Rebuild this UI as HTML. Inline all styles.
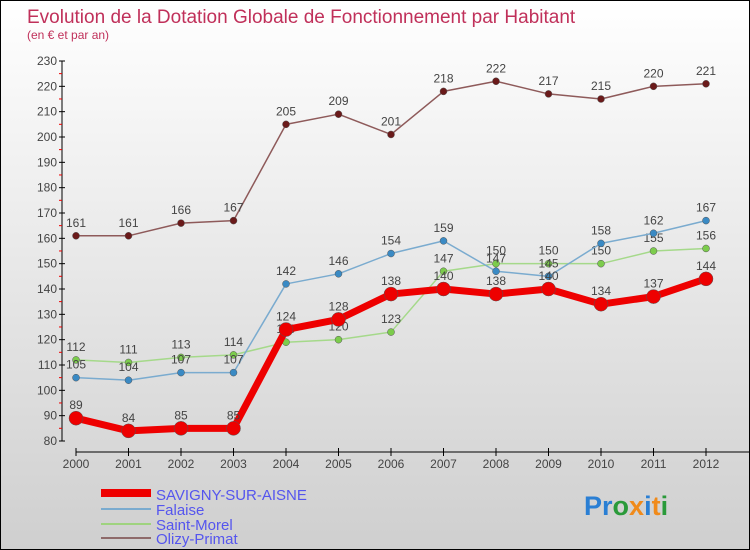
<!DOCTYPE html>
<html><head><meta charset="utf-8"><style>
html,body{margin:0;padding:0}
#wrap{position:relative;width:748px;height:548px;border:1px solid #000;background:linear-gradient(#ffffff,#cfcfcf);font-family:"Liberation Sans",sans-serif;overflow:hidden}
</style></head><body>
<div id="wrap">
<svg id="c" width="748" height="548" xmlns="http://www.w3.org/2000/svg">
<text x="26" y="22" font-size="19" fill="#c0305a">Evolution de la Dotation Globale de Fonctionnement par Habitant</text>
<text x="26" y="38" font-size="12" fill="#c0305a">(en € et par an)</text>
<g id="axes"></g><g id="series"></g>
<g>
<line x1="100" y1="492" x2="150" y2="492" stroke="#e00" stroke-width="8"/>
<text x="155" y="499" font-size="15" fill="#5555ee">SAVIGNY-SUR-AISNE</text>
<line x1="100" y1="508" x2="150" y2="508" stroke="#7aabcf" stroke-width="2"/>
<text x="155" y="514" font-size="15" fill="#5555ee">Falaise</text>
<line x1="100" y1="523" x2="150" y2="523" stroke="#9fd37f" stroke-width="2"/>
<text x="155" y="529" font-size="15" fill="#5555ee">Saint-Morel</text>
<line x1="100" y1="537" x2="150" y2="537" stroke="#8e6a6a" stroke-width="2"/>
<text x="155" y="543" font-size="15" fill="#5555ee">Olizy-Primat</text>
</g>
<text x="583" y="514" font-size="27" font-weight="bold"><tspan fill="#2a7fd4">Pr</tspan><tspan fill="#2a9a3a">o</tspan><tspan fill="#f08a1a">x</tspan><tspan fill="#2a7fd4">i</tspan><tspan fill="#f08a1a">t</tspan><tspan fill="#2a9a3a">i</tspan></text>
</svg>
</div>
<script>
const years=[2000,2001,2002,2003,2004,2005,2006,2007,2008,2009,2010,2011,2012];
const yTicks=[80,90,100,110,120,130,140,150,160,170,180,190,200,210,220,230];
const savigny=[89,84,85,85,124,128,138,140,138,140,134,137,144];
const falaise=[105,104,107,107,142,146,154,159,147,145,158,162,167];
const saintMorel=[112,111,113,114,119,120,123,147,150,150,150,155,156];
const olizy=[161,161,166,167,205,209,201,218,222,217,215,220,221];
const NS="http://www.w3.org/2000/svg";
const xS=i=>75+i*52.5;
const yS=v=>440-(v-80)*380/150;
function mk(t,a,p){const e=document.createElementNS(NS,t);for(const k in a)e.setAttribute(k,a[k]);p.appendChild(e);return e;}
const ax=document.getElementById('axes');
const yl=mk('line',{x1:61,y1:60,x2:61,y2:440,stroke:'#000'},ax);


const xl=mk('line',{x1:75,y1:451,x2:748,y2:451,stroke:'#000'},ax);


yTicks.forEach(v=>{const y=yS(v);
mk('line',{x1:58,y1:y,x2:64,y2:y,stroke:'#000'},ax);
if(v<230)mk('line',{x1:58,y1:y-12.7,x2:61,y2:y-12.7,stroke:'#e00'},ax);
const t=mk('text',{x:56,y:y+4,'font-size':12,fill:'#444','text-anchor':'end'},ax);t.textContent=v;

});
years.forEach((yr,i)=>{const x=xS(i);
mk('line',{x1:x,y1:447,x2:x,y2:455,stroke:'#000'},ax);
const t=mk('text',{x:x,y:467,'font-size':12,fill:'#444','text-anchor':'middle'},ax);t.textContent=yr;

});
const sg=document.getElementById('series');
function draw(vals,color,dot,w,r,name){
const g=mk('g',{},sg);


mk('polyline',{points:vals.map((v,i)=>xS(i)+','+yS(v)).join(' '),fill:'none',stroke:color,'stroke-width':w,'stroke-linejoin':'round'},g);
vals.forEach((v,i)=>{const c=mk('circle',{cx:xS(i),cy:yS(v),r:r,fill:dot,stroke:'#555','stroke-width':0.5},g);


const t=mk('text',{x:xS(i),y:yS(v)-9,'font-size':12,fill:'#444','text-anchor':'middle'},g);t.textContent=v;

});}
draw(saintMorel,'#a5d98a','#7ccc4c',1.5,3.5,'saint-morel');
draw(falaise,'#7aabcf','#3a8ac4',1.5,3.5,'falaise');
draw(olizy,'#8e5a5a','#6a1a1a',1.5,3.5,'olizy-primat');
draw(savigny,'#ee0000','#ee0000',7,7,'savigny-sur-aisne');
</script>
</body></html>
